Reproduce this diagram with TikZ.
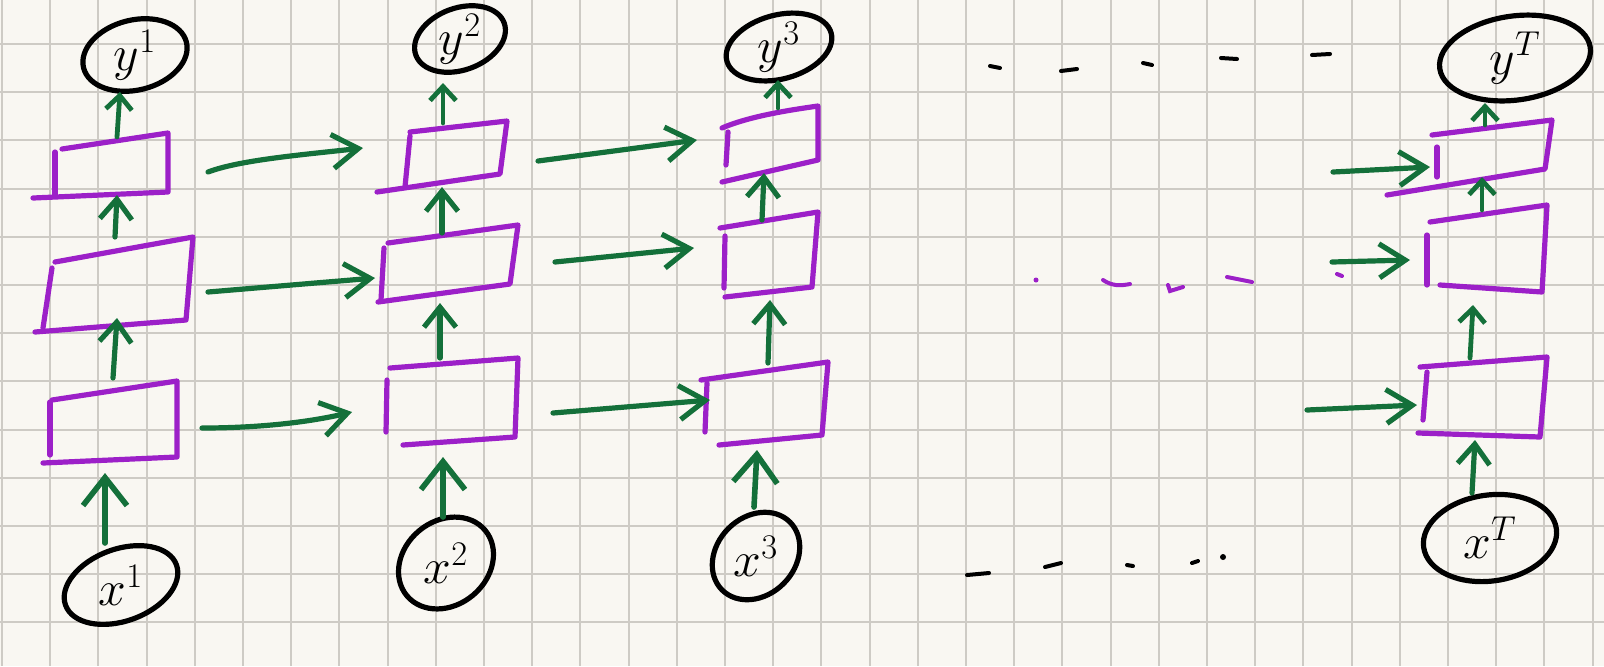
\documentclass[tikz,border=0pt]{standalone}
\usetikzlibrary{arrows.meta,shapes.geometric}
\definecolor{paper}{RGB}{249,247,242}
\definecolor{gridc}{RGB}{206,203,197}
\definecolor{pen}{RGB}{20,112,58}
\definecolor{vio}{RGB}{156,32,200}
\begin{document}
\begin{tikzpicture}[x=0.5pt,y=-0.5pt,
  ell/.style={ellipse, draw=black, line width=2.6pt, inner sep=0pt},
  lbl/.style={inner sep=0pt, font=\fontsize{24}{28}\selectfont},
  boxline/.style={draw=vio, line width=2.6pt, line join=round, line cap=round},
  harr/.style={draw=pen, line width=2.6pt, line cap=round,
    -{Straight Barb[length=13pt,width=17pt]}},
  varr/.style={draw=pen, line width=2.6pt, line cap=round,
    -{Straight Barb[length=10pt,width=16pt]}},
  bigarr/.style={draw=pen, line width=2.8pt, line cap=round,
    -{Straight Barb[length=14pt,width=22pt]}},
  smallarr/.style={draw=pen, line width=2.4pt, line cap=round,
    -{Straight Barb[length=7pt,width=13pt]}},
  dashk/.style={draw=black, line width=2pt, line cap=round},
  dashv/.style={draw=vio, line width=2pt, line cap=round}]
\fill[paper] (0,0) rectangle (1604,666);
\useasboundingbox (0,0) rectangle (1604,666);
\foreach \i in {0,...,33} \draw[gridc, line width=1pt] ({2+48.2*\i},0) -- ({2+48.2*\i},666);
\foreach \j in {0,...,12} \draw[gridc, line width=1pt] (0,{44+48.2*\j}) -- (1604,{44+48.2*\j});

% ---------- ellipses (outputs and inputs)
\node[ell, minimum width=53pt, minimum height=35pt, rotate=14] (y1) at (135,55) {};
\node[ell, minimum width=47pt, minimum height=31pt, rotate=20] (y2) at (460,39) {};
\node[ell, minimum width=54pt, minimum height=32pt, rotate=15] (y3) at (779,47) {};
\node[ell, minimum width=76pt, minimum height=42pt, rotate=8] (yT) at (1515,58) {};
\node[ell, minimum width=59pt, minimum height=36pt, rotate=20] (x1) at (121,585) {};
\node[ell, minimum width=51pt, minimum height=42pt, rotate=40] (x2) at (446,563) {};
\node[ell, minimum width=48pt, minimum height=39pt, rotate=45] (x3) at (756,556) {};
\node[ell, minimum width=67pt, minimum height=43pt, rotate=8] (xT) at (1490,538) {};
\node[lbl] (ty1) at (y1) {$y^{1}$};
\node[lbl] (ty2) at (y2) {$y^{2}$};
\node[lbl] (ty3) at (y3) {$y^{3}$};
\node[lbl] (tyT) at (yT) {$y^{T}$};
\node[lbl] (tx1) at (x1) {$x^{1}$};
\node[lbl] (tx2) at (x2) {$x^{2}$};
\node[lbl] (tx3) at (x3) {$x^{3}$};
\node[lbl] (txT) at (xT) {$x^{T}$};

% ---------- hidden-state boxes
\coordinate (b1c) at (110,165);
\coordinate (b1b) at (115,285);
\coordinate (b1a) at (112,420);
\draw[boxline] (62,149) -- (168,133) -- (168,192) -- (33,198);
\draw[boxline] (55,152) -- (55,195);
\draw[boxline] (55,262) -- (193,237) -- (186,320) -- (35,332);
\draw[boxline] (52,268) -- (43,328);
\draw[boxline] (52,400) -- (177,381) -- (177,457) -- (43,463);
\draw[boxline] (50,402) -- (50,455);

\coordinate (b2c) at (450,158);
\coordinate (b2b) at (450,265);
\coordinate (b2a) at (450,402);
\draw[boxline] (410,132) -- (507,121) -- (500,174) -- (377,192);
\draw[boxline] (410,136) -- (405,187);
\draw[boxline] (388,243) -- (518,225) -- (510,284) -- (378,302);
\draw[boxline] (384,248) -- (381,300);
\draw[boxline] (390,368) -- (518,358) -- (515,437) -- (403,445);
\draw[boxline] (387,380) -- (386,432);

\coordinate (b3c) at (770,145);
\coordinate (b3b) at (770,255);
\coordinate (b3a) at (765,405);
\draw[boxline] (722,128) .. controls (750,116) and (790,110) .. (818,106) -- (818,160) -- (722,182);
\draw[boxline] (728,132) -- (726,165);
\draw[boxline] (720,228) -- (818,212) -- (812,287) -- (725,297);
\draw[boxline] (725,236) -- (724,288);
\draw[boxline] (701,380) -- (828,362) -- (822,435) -- (719,445);
\draw[boxline] (707,383) -- (705,432);

\coordinate (bTc) at (1490,155);
\coordinate (bTb) at (1487,250);
\coordinate (bTa) at (1482,400);
\draw[boxline] (1432,135) -- (1552,120) -- (1545,169) -- (1387,195);
\draw[boxline] (1437,147) -- (1437,177);
\draw[boxline] (1430,222) -- (1547,205) -- (1542,292) -- (1440,285);
\draw[boxline] (1427,235) -- (1427,285);
\draw[boxline] (1420,367) -- (1547,357) -- (1540,437) -- (1418,433);
\draw[boxline] (1427,372) -- (1423,420);

% ---------- vertical connectors (tail / head coordinates)
\coordinate (v1xs) at (105,543); \coordinate (v1xe) at (105,473);
\coordinate (v1as) at (113,378); \coordinate (v1ae) at (117,318);
\coordinate (v1bs) at (115,237); \coordinate (v1be) at (117,195);
\coordinate (v1cs) at (117,137); \coordinate (v1ce) at (120,92);
\coordinate (v2xs) at (443,517); \coordinate (v2xe) at (443,457);
\coordinate (v2as) at (440,358); \coordinate (v2ae) at (440,303);
\coordinate (v2bs) at (442,233); \coordinate (v2be) at (442,187);
\coordinate (v2cs) at (443,123); \coordinate (v2ce) at (443,83);
\coordinate (v3xs) at (754,507); \coordinate (v3xe) at (757,450);
\coordinate (v3as) at (768,363); \coordinate (v3ae) at (770,300);
\coordinate (v3bs) at (762,220); \coordinate (v3be) at (764,173);
\coordinate (v3cs) at (778,108); \coordinate (v3ce) at (778,80);
\coordinate (vTxs) at (1472,493); \coordinate (vTxe) at (1475,440);
\coordinate (vTas) at (1470,358); \coordinate (vTae) at (1473,305);
\coordinate (vTbs) at (1482,210); \coordinate (vTbe) at (1482,177);
\coordinate (vTcs) at (1485,125); \coordinate (vTce) at (1485,103);

\draw[bigarr] (v1xs) -- (v1xe);
\draw[varr] (v1as) -- (v1ae);
\draw[varr] (v1bs) -- (v1be);
\draw[smallarr] (v1cs) -- (v1ce);
\draw[bigarr] (v2xs) -- (v2xe);
\draw[varr] (v2as) -- (v2ae);
\draw[varr] (v2bs) -- (v2be);
\draw[smallarr] (v2cs) -- (v2ce);
\draw[bigarr] (v3xs) -- (v3xe);
\draw[varr] (v3as) -- (v3ae);
\draw[varr] (v3bs) -- (v3be);
\draw[smallarr] (v3cs) -- (v3ce);
\draw[varr] (vTxs) -- (vTxe);
\draw[smallarr] (vTas) -- (vTae);
\draw[smallarr] (vTbs) -- (vTbe);
\draw[smallarr] (vTcs) -- (vTce);

% ---------- horizontal (recurrent) connectors
\coordinate (h11s) at (208,172); \coordinate (h11e) at (363,148);
\coordinate (h12s) at (208,292); \coordinate (h12e) at (375,278);
\coordinate (h13s) at (202,428); \coordinate (h13e) at (352,412);
\coordinate (h21s) at (538,161); \coordinate (h21e) at (697,140);
\coordinate (h22s) at (555,262); \coordinate (h22e) at (694,248);
\coordinate (h23s) at (553,413); \coordinate (h23e) at (710,400);
\coordinate (hT1s) at (1333,172); \coordinate (hT1e) at (1430,167);
\coordinate (hT2s) at (1332,262); \coordinate (hT2e) at (1410,260);
\coordinate (hT3s) at (1307,410); \coordinate (hT3e) at (1417,405);
\draw[harr] (h11s) .. controls (240,160) and (300,155) .. (h11e);
\draw[harr] (h12s) -- (h12e);
\draw[harr] (h13s) .. controls (260,428) and (310,422) .. (h13e);
\draw[harr] (h21s) -- (h21e);
\draw[harr] (h22s) -- (h22e);
\draw[harr] (h23s) -- (h23e);
\draw[harr] (hT1s) -- (hT1e);
\draw[harr] (hT2s) -- (hT2e);
\draw[harr] (hT3s) -- (hT3e);

% ---------- ellipsis dashes
\draw[dashk] (990,66) -- (1000,68);
\draw[dashk] (1061,71) -- (1077,69);
\draw[dashk] (1143,63) -- (1152,65);
\draw[dashk] (1221,58) -- (1237,59);
\draw[dashk] (1312,55) -- (1330,54);
\fill[vio] (1036,280) circle (2.5);
\draw[dashv] (1103,280) .. controls (1112,286) and (1120,286) .. (1130,284);
\draw[dashv] (1168,285) -- (1170,291) -- (1183,287);
\draw[dashv] (1227,277) -- (1252,282);
\draw[dashv] (1337,274) -- (1342,276);
\draw[dashk] (967,575) -- (989,573);
\draw[dashk] (1045,567) -- (1061,563);
\draw[dashk] (1127,565) -- (1133,566);
\draw[dashk] (1192,563) -- (1198,561);
\fill (1223,557) circle (3);
\end{tikzpicture}
\end{document}
